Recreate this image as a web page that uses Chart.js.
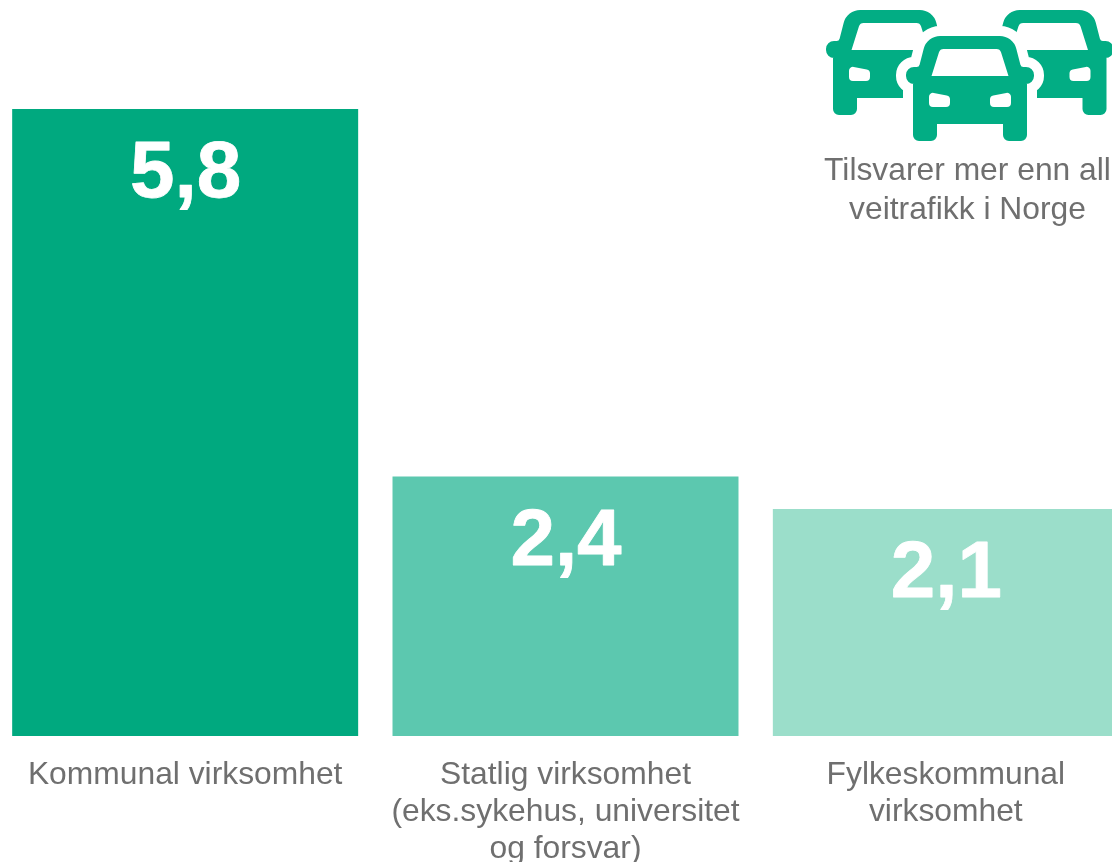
<!DOCTYPE html>
<html><head><meta charset="utf-8">
<style>html,body{margin:0;padding:0;background:#fff;overflow:hidden}#w{position:relative;width:1112px;height:862px;overflow:hidden}canvas{position:absolute;left:-5px;top:0}</style>
<script src="https://cdn.jsdelivr.net/npm/chart.js@4"></script></head>
<body><div id="w"><canvas id="c" width="1141" height="881"></canvas></div>
<script>
const categories=[["Kommunal virksomhet"],["Statlig virksomhet","(eks.sykehus, universitet","og forsvar)"],["Fylkeskommunal","virksomhet"]];
const values=[5.8,2.4,2.1];
const valueLabels=["5,8","2,4","2,1"];
const barColors=["#00a97f","#5cc8af","#9bdeca"];
const noteLines=["Tilsvarer mer enn all","veitrafikk i Norge"];
const green="#02ad84";
const textGrey="#6f6f6f";
const FONT='"Liberation Sans"';
function poly(ctx,pts,r){
 ctx.beginPath();
 const n=pts.length;
 const mx=(pts[n-1][0]+pts[0][0])/2,my=(pts[n-1][1]+pts[0][1])/2;
 ctx.moveTo(mx,my);
 for(let i=0;i<n;i++){const p=pts[i],q=pts[(i+1)%n];ctx.arcTo(p[0],p[1],q[0],q[1],p[2]??r);}
 ctx.closePath();
}
function silhouette(ctx){
 poly(ctx,[[-43,0,17],[43,0,17],[51,31,3],[64,31,8],[64,48,8],[57,48,0],[57,105,6],[33,105,6],[33,88,0],[-33,88,0],[-33,105,6],[-57,105,6],[-57,48,0],[-64,48,8],[-64,31,8],[-51,31,3]],0);
}
function car(ctx,cx,top,halo){
 ctx.save();ctx.translate(cx,top);
 if(halo){silhouette(ctx);ctx.strokeStyle='#fff';ctx.lineWidth=20;ctx.lineJoin='round';ctx.stroke();}
 silhouette(ctx);ctx.fillStyle=green;ctx.fill();
 ctx.fillStyle='#fff';
 poly(ctx,[[-30,13,5],[30,13,5],[38.5,40,0],[-38.5,40,0]],0);ctx.fill();
 for(const s of [-1,1]){
  poly(ctx,[[s*41,56,4],[s*20,60,4],[s*20,71,4],[s*41,71,4]],0);ctx.fill();
 }
 ctx.restore();
}
const extras={id:'extras',afterDatasetsDraw(chart){
 const {ctx}=chart;const m=chart.getDatasetMeta(0);
 ctx.save();ctx.textAlign='center';ctx.textBaseline='alphabetic';
 ctx.font='bold 80px '+FONT;ctx.fillStyle='#fff';ctx.strokeStyle='#fff';ctx.lineWidth=0.8;ctx.lineJoin='round';
 m.data.forEach((b,i)=>{ctx.fillText(valueLabels[i],b.x+0.5,b.y+88);ctx.strokeText(valueLabels[i],b.x+0.5,b.y+88);});
 ctx.translate(5,0);
 ctx.font='31.8px '+FONT;ctx.fillStyle=textGrey;
 noteLines.forEach((t,i)=>ctx.fillText(t,967.5,180+i*39));
 car(ctx,890,10,false);car(ctx,1049.5,10,false);car(ctx,970,36,true);
 ctx.restore();
}};
new Chart(document.getElementById('c'),{type:'bar',
 data:{labels:categories,datasets:[{data:values,backgroundColor:barColors,categoryPercentage:1,barPercentage:0.9097}]},
 plugins:[extras],
 options:{responsive:false,animation:false,
  plugins:{legend:{display:false},tooltip:{enabled:false}},
  scales:{
   x:{grid:{display:false},border:{display:false},ticks:{color:textGrey,font:{family:FONT,size:31.8,lineHeight:1.163},maxRotation:0,autoSkip:false,padding:13}},
   y:{display:false,min:0,max:6.808}
  }}});
</script></body></html>
